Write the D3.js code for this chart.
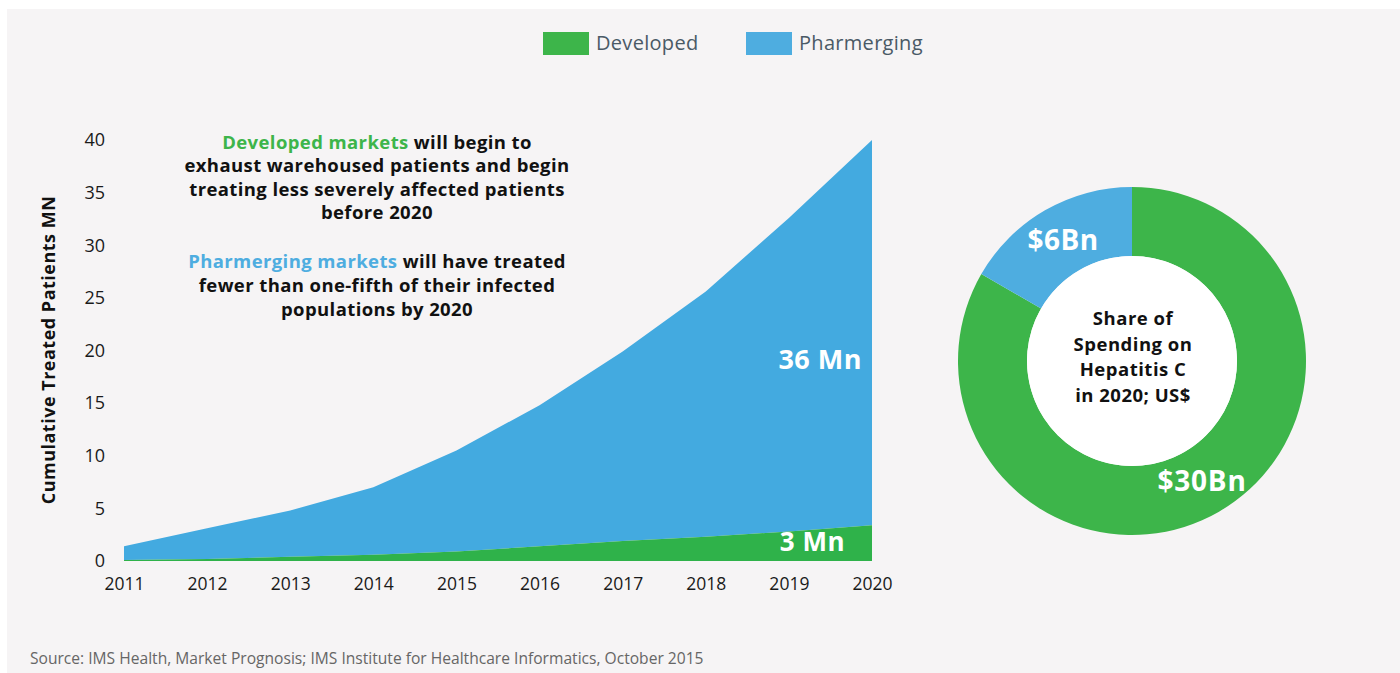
<!DOCTYPE html>
<html><head><meta charset="utf-8">
<script src="https://cdn.jsdelivr.net/npm/d3@7/dist/d3.min.js"></script>
<style>
html,body{margin:0;padding:0;background:#fff;}
svg{display:block;font-family:"Open Sans",Lato,sans-serif;}
</style></head><body>
<svg id="c" width="1400" height="673"></svg>
<script>
const years = [2011,2012,2013,2014,2015,2016,2017,2018,2019,2020];
const developed = [0.1,0.2,0.4,0.6,0.9,1.4,1.9,2.3,2.8,3.4];
const pharmerging = [1.3,2.9,4.4,6.4,9.6,13.4,18.0,23.3,29.8,36.6];
const yTicks = [0,5,10,15,20,25,30,35,40];
const spendLabels = ["$30Bn","$6Bn"];
const spendValues = [30,6];
const seriesNames = ["Developed","Pharmerging"];
const colors = {dev:"#2fb24a", phar:"#43aae0", devD:"#3db54a", pharD:"#4eade0"};
const FONT = "'Open Sans',sans-serif";

const svg = d3.select("#c");
svg.append("rect").attr("x",7).attr("y",9).attr("width",1393).attr("height",664).attr("fill","#f6f4f5");

const x = d3.scaleLinear().domain([2011,2020]).range([124,872]);
const y = d3.scaleLinear().domain([0,40]).range([561,140]);

const rows = years.map((yr,i)=>({year:yr, Developed:developed[i], Pharmerging:pharmerging[i]}));
const stack = d3.stack().keys(seriesNames)(rows);
const area = d3.area().x(d=>x(d.data.year)).y0(d=>y(d[0])).y1(d=>y(d[1])).curve(d3.curveLinear);
svg.append("path").datum(stack[1]).attr("d",area).attr("fill",colors.phar);
svg.append("path").datum(stack[0]).attr("d",area).attr("fill",colors.dev);

// axes (no lines)
const yAxis = svg.append("g").attr("transform","translate(105,0)")
  .call(d3.axisLeft(y).tickValues(yTicks).tickSize(0).tickPadding(0));
yAxis.select(".domain").remove();
yAxis.selectAll("text").attr("font-size",18).attr("fill","#1a1a1a").attr("font-family",FONT);
const xAxis = svg.append("g").attr("transform","translate(0,578)")
  .call(d3.axisBottom(x).tickValues(years).tickFormat(d3.format("d")).tickSize(0).tickPadding(0));
xAxis.select(".domain").remove();
xAxis.selectAll("text").attr("font-size",17.5).attr("fill","#1a1a1a").attr("font-family",FONT);

svg.append("text").attr("transform","translate(55,350) rotate(-90)").attr("text-anchor","middle")
  .attr("font-size",18).attr("letter-spacing",0.5).attr("font-weight","bold").attr("fill","#111").text("Cumulative Treated Patients MN");

// legend
const lg = svg.append("g");
[[543,colors.devD,"Developed"],[746,colors.pharD,"Pharmerging"]].forEach(([lx,c,t])=>{
  lg.append("rect").attr("x",lx).attr("y",32).attr("width",46).attr("height",23).attr("fill",c);
  lg.append("text").attr("x",lx+53).attr("y",50).attr("font-size",20).attr("letter-spacing",0.3).attr("fill","#4a5a66").text(t);
});

// annotation
const ann = svg.append("g").attr("font-size",18.5).attr("letter-spacing",0.4).attr("font-weight","bold").attr("text-anchor","middle").attr("fill","#111");
const l1 = ann.append("text").attr("x",377).attr("y",149);
l1.append("tspan").attr("fill",colors.devD).text("Developed markets");
l1.append("tspan").text(" will begin to");
["exhaust warehoused patients and begin","treating less severely affected patients","before 2020"].forEach((t,i)=>
  ann.append("text").attr("x",377).attr("y",172+i*23.5).text(t));
const l2 = ann.append("text").attr("x",377).attr("y",268);
l2.append("tspan").attr("fill",colors.pharD).text("Pharmerging markets");
l2.append("tspan").text(" will have treated");
["fewer than one-fifth of their infected","populations by 2020"].forEach((t,i)=>
  ann.append("text").attr("x",377).attr("y",292+i*23.5).text(t));

// value labels
svg.append("text").attr("x",862).attr("y",369).attr("text-anchor","end").attr("font-size",27).attr("letter-spacing",0.5).attr("font-weight","bold").attr("fill","#fff").text("36 Mn");
svg.append("text").attr("x",845).attr("y",551).attr("text-anchor","end").attr("font-size",26).attr("letter-spacing",0.5).attr("font-weight","bold").attr("fill","#fff").text("3 Mn");

// donut
const cx=1132, cy=361;
const pie = d3.pie().sort(null).value(d=>d)(spendValues);
const arc = d3.arc().innerRadius(105).outerRadius(174);
const dg = svg.append("g").attr("transform",`translate(${cx},${cy})`);
dg.selectAll("path").data(pie).join("path").attr("d",arc).attr("fill",(d,i)=>i===0?colors.devD:colors.pharD);
dg.append("circle").attr("r",105).attr("fill","#fff");
dg.append("text").attr("x",-69).attr("y",-111).attr("text-anchor","middle").attr("font-size",28).attr("letter-spacing",0.5).attr("font-weight","bold").attr("fill","#fff").text(spendLabels[1]);
dg.append("text").attr("x",70).attr("y",130).attr("text-anchor","middle").attr("font-size",28).attr("letter-spacing",0.8).attr("font-weight","bold").attr("fill","#fff").text(spendLabels[0]);
["Share of","Spending on","Hepatitis C","in 2020; US$"].forEach((t,i)=>
  dg.append("text").attr("x",1).attr("y",-36+i*25.5).attr("text-anchor","middle").attr("font-size",18.5).attr("letter-spacing",0.5).attr("font-weight","bold").attr("fill","#111").text(t));

svg.append("text").attr("x",30).attr("y",664).attr("font-size",15.6).attr("fill","#666")
  .text("Source: IMS Health, Market Prognosis; IMS Institute for Healthcare Informatics, October 2015");
</script></body></html>
